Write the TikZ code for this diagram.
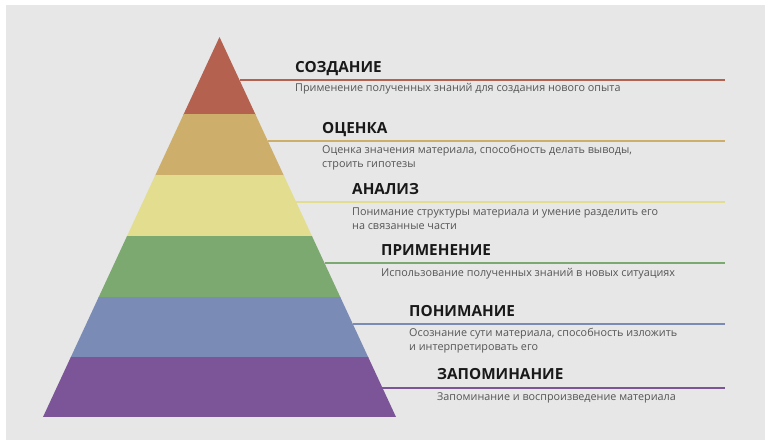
\documentclass[tikz,border=0pt]{standalone}
\usepackage{fontspec}
\setmainfont{Open Sans}
\definecolor{bg}{HTML}{E7E7E7}
\definecolor{cred}{HTML}{B5614F}
\definecolor{ctan}{HTML}{CDAF6B}
\definecolor{cyel}{HTML}{E2DD8F}
\definecolor{cgrn}{HTML}{7CA970}
\definecolor{cblu}{HTML}{7A8BB6}
\definecolor{cpur}{HTML}{7C5598}
\definecolor{desc}{HTML}{555555}
\newcommand{\twolines}[2]{\vtop{\hbox{#1}\hbox{#2}}}
\tikzset{
  ttl/.style={anchor=base west,inner sep=0pt,font=\fontsize{15.3}{15}\selectfont\bfseries,text=black!90},
  dsc/.style={anchor=base west,inner sep=0pt,font=\fontsize{10.8}{14}\selectfont,text=desc},
  lvl/.style={line width=1.4pt},
}
\begin{document}
\begin{tikzpicture}[x=1pt,y=-1pt]
\useasboundingbox (0,0) rectangle (771,444);
\fill[white] (0,0) rectangle (771,444);
\fill[bg] (6,5) rectangle (765,440);
% pyramid bands
\begin{scope}
\clip (219.5,37) -- (396,417) -- (43,417) -- cycle;
\fill[cred] (40,30) rectangle (400,114.5);
\fill[ctan] (40,114) rectangle (400,175.5);
\fill[cyel] (40,175) rectangle (400,236.5);
\fill[cgrn] (40,236) rectangle (400,297.5);
\fill[cblu] (40,297) rectangle (400,357.5);
\fill[cpur] (40,357) rectangle (400,417);
\end{scope}
% edge points and line ends
\coordinate (e1) at (239.5,80);  \coordinate (f1) at (725,80);
\coordinate (e2) at (267.8,141); \coordinate (f2) at (725,141);
\coordinate (e3) at (296.1,202); \coordinate (f3) at (725,202);
\coordinate (e4) at (324.5,263); \coordinate (f4) at (725,263);
\coordinate (e5) at (352.8,324); \coordinate (f5) at (725,324);
\coordinate (e6) at (382.0,388); \coordinate (f6) at (725,388);
\draw[lvl,cred] (e1) -- (f1);
\draw[lvl,ctan] (e2) -- (f2);
\draw[lvl,cyel] (e3) -- (f3);
\draw[lvl,cgrn] (e4) -- (f4);
\draw[lvl,cblu] (e5) -- (f5);
\draw[lvl,cpur] (e6) -- (f6);
% titles
\node[ttl] (t1) at (295,73) {СОЗДАНИЕ};
\node[ttl] (t2) at (322,133) {ОЦЕНКА};
\node[ttl] (t3) at (352,194) {АНАЛИЗ};
\node[ttl] (t4) at (381,255) {ПРИМЕНЕНИЕ};
\node[ttl] (t5) at (409,316) {ПОНИМАНИЕ};
\node[ttl] (t6) at (437,379) {ЗАПОМИНАНИЕ};
% descriptions
\node[dsc] (d1) at (295,92) {Применение полученных знаний для создания нового опыта};
\node[dsc] (d2) at (322,153) {\twolines{Оценка значения материала, способность делать выводы,}{строить гипотезы}};
\node[dsc] (d3) at (352,215) {\twolines{Понимание структуры материала и умение разделить его}{на связанные части}};
\node[dsc] (d4) at (381,276) {Использование полученных знаний в новых ситуациях};
\node[dsc] (d5) at (409,336) {\twolines{Осознание сути материала, способность изложить}{и интерпретировать его}};
\node[dsc] (d6) at (437,400) {Запоминание и воспроизведение материала};
\end{tikzpicture}
\end{document}
